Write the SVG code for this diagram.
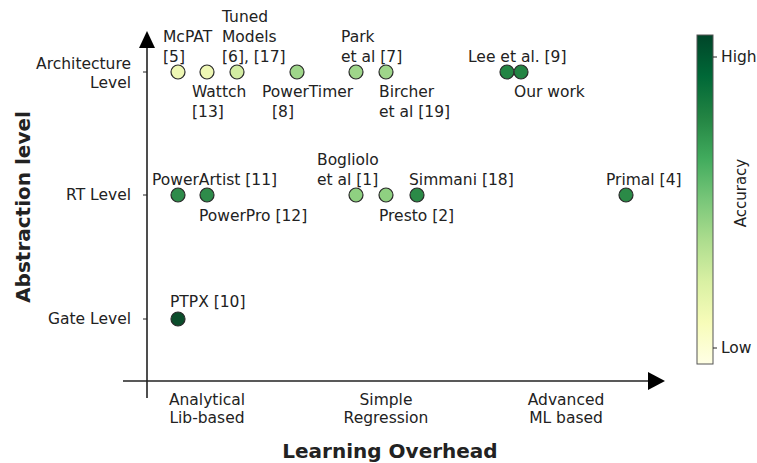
<svg xmlns="http://www.w3.org/2000/svg" width="757" height="463" viewBox="0 0 757 463">
<defs>
<linearGradient id="cb" x1="0" y1="1" x2="0" y2="0">
<stop offset="0" stop-color="#ffffe5"/>
<stop offset="0.125" stop-color="#f7fcb9"/>
<stop offset="0.25" stop-color="#d9f0a3"/>
<stop offset="0.375" stop-color="#addd8e"/>
<stop offset="0.5" stop-color="#78c679"/>
<stop offset="0.625" stop-color="#41ab5d"/>
<stop offset="0.75" stop-color="#238443"/>
<stop offset="0.875" stop-color="#006837"/>
<stop offset="1" stop-color="#004529"/>
</linearGradient>
</defs>
<style>
text{font-family:"DejaVu Sans","Liberation Sans",sans-serif;font-size:15.5px;fill:#222}
.r{text-anchor:end}
.m{text-anchor:middle}
.b{font-weight:bold;font-size:20px}
.dot{stroke:#2a2a2a;stroke-width:1.2}
.ax{stroke:#222;stroke-width:1.6;fill:none}
.tk{stroke:#222;stroke-width:1}
</style>
<rect width="757" height="463" fill="#fff"/>
<g id="axes">
<line class="ax" x1="147" y1="46" x2="147" y2="398"/>
<polygon points="147,31 139,48 155,48" fill="#000"/>
<line class="ax" x1="123" y1="381" x2="650" y2="381"/>
<polygon points="665,381 648,372 648,390" fill="#000"/>
<line class="tk" x1="143" y1="72" x2="147" y2="72"/>
<line class="tk" x1="143" y1="195" x2="147" y2="195"/>
<line class="tk" x1="143" y1="319" x2="147" y2="319"/>
<text class="r" x="131" y="69">Architecture</text>
<text class="r" x="131" y="88">Level</text>
<text class="r" x="131" y="200">RT Level</text>
<text class="r" x="131" y="324">Gate Level</text>
<text class="m" x="207" y="405">Analytical</text>
<text class="m" x="207" y="423">Lib-based</text>
<text class="m" x="386" y="405">Simple</text>
<text class="m" x="386" y="423">Regression</text>
<text class="m" x="566" y="405">Advanced</text>
<text class="m" x="566" y="423">ML based</text>
<text class="m b" x="390" y="458">Learning Overhead</text>
<text class="m b" transform="translate(30,207) rotate(-90)">Abstraction level</text>
</g>
<g id="connectors"></g>
<g id="mcpat"><circle class="dot" cx="178" cy="72" r="7" fill="#eef7b4"/><text x="163" y="42">McPAT</text><text x="163" y="62">[5]</text></g>
<g id="wattch"><circle class="dot" cx="207" cy="72" r="7" fill="#eef7b4"/><text x="192" y="97">Wattch</text><text x="192" y="117">[13]</text></g>
<g id="tuned"><circle class="dot" cx="237" cy="72" r="7" fill="#d3eca2"/><text x="222" y="22">Tuned</text><text x="222" y="42">Models</text><text x="222" y="62">[6], [17]</text></g>
<g id="powertimer"><circle class="dot" cx="297" cy="72" r="7" fill="#9fd68a"/><text x="262" y="97">PowerTimer</text><text x="272" y="117">[8]</text></g>
<g id="park"><circle class="dot" cx="356" cy="72" r="7" fill="#9fd68a"/><text x="341" y="42">Park</text><text x="341" y="62">et al [7]</text></g>
<g id="bircher"><circle class="dot" cx="386" cy="72" r="7" fill="#9fd68a"/><text x="379" y="97">Bircher</text><text x="379" y="117">et al [19]</text></g>
<g id="lee"><circle class="dot" cx="507" cy="72" r="7" fill="#238443"/><text x="468" y="62">Lee et al. [9]</text></g>
<g id="ourwork"><circle class="dot" cx="521" cy="72" r="7" fill="#238443"/><text x="514" y="97">Our work</text></g>
<g id="powerartist"><circle class="dot" cx="178" cy="195" r="7" fill="#2e8b4a"/><text x="152" y="185">PowerArtist [11]</text></g>
<g id="powerpro"><circle class="dot" cx="207" cy="195" r="7" fill="#2e8b4a"/><text x="199" y="221">PowerPro [12]</text></g>
<g id="bogliolo"><circle class="dot" cx="356" cy="195" r="7" fill="#8fd081"/><text x="317" y="165">Bogliolo</text><text x="317" y="185">et al [1]</text></g>
<g id="presto"><circle class="dot" cx="386" cy="195" r="7" fill="#8fd081"/><text x="379" y="221">Presto [2]</text></g>
<g id="simmani"><circle class="dot" cx="417" cy="195" r="7" fill="#2b8a47"/><text x="409" y="185">Simmani [18]</text></g>
<g id="primal"><circle class="dot" cx="626" cy="195" r="7" fill="#2b8a47"/><text x="606" y="185">Primal [4]</text></g>
<g id="ptpx"><circle class="dot" cx="178" cy="319" r="7" fill="#0b4d2b"/><text x="170" y="307">PTPX [10]</text></g>
<g id="colorbar">
<rect x="697" y="35" width="16" height="329" fill="url(#cb)" stroke="#555" stroke-width="1"/>
<line class="tk" x1="713" y1="57" x2="717" y2="57"/>
<line class="tk" x1="713" y1="348" x2="717" y2="348"/>
<text x="721" y="62">High</text>
<text x="721" y="353">Low</text>
<text class="m" transform="translate(746,193) rotate(-90)" style="font-size:15px">Accuracy</text>
</g>
</svg>
